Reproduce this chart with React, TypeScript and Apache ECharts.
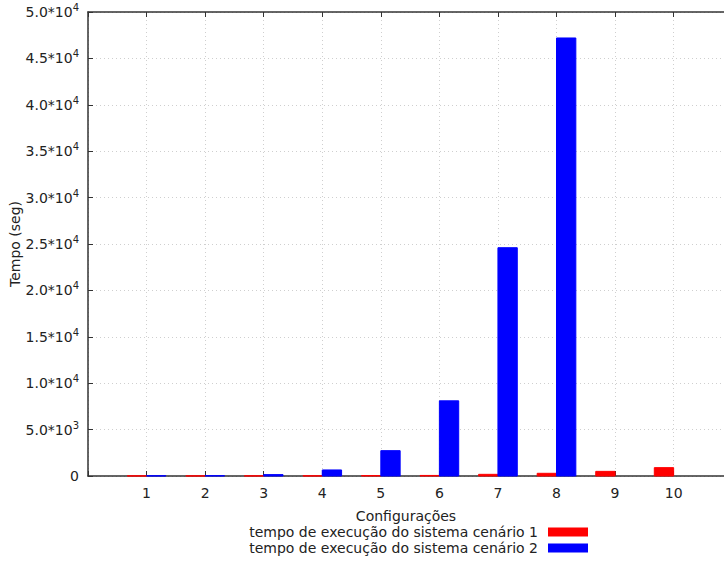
import React, { useEffect, useRef } from "react";
import * as echarts from "echarts";

const categories = [1, 2, 3, 4, 5, 6, 7, 8, 9, 10];
const scenario1 = [15, 15, 20, 25, 50, 60, 180, 290, 500, 900];
const scenario2 = [30, 40, 150, 650, 2730, 8100, 24600, 47200, 0, 0];
const seriesNames = [
  "tempo de execução do sistema cenário 1",
  "tempo de execução do sistema cenário 2",
];
const yTicks = [0, 5000, 10000, 15000, 20000, 25000, 30000, 35000, 40000, 45000, 50000];

const FONT = "DejaVu Sans";
const FS = 14;

function fmtY(v: number): string {
  if (v === 0) return "0";
  const exp = Math.floor(Math.log10(v));
  const mant = v / Math.pow(10, exp);
  return `{a|${mant.toFixed(1)}*10}{s|${exp}}`;
}

function barSeries(name: string, data: number[], color: string, offset: number) {
  return {
    type: "custom",
    name,
    itemStyle: { color },
    data: categories.map((c, i) => [c, data[i]]),
    encode: { x: 0, y: 1 },
    renderItem: (params: any, api: any) => {
      const c = api.value(0);
      const v = api.value(1);
      if (!v) return null;
      const p0 = api.coord([c + offset, v]);
      const p1 = api.coord([c + offset + 0.33, 0]);
      return {
        type: "rect",
        shape: { x: p0[0], y: p0[1], width: p1[0] - p0[0], height: p1[1] - p0[1] },
        style: { fill: color, stroke: color, lineWidth: 1, opacity: 1 },
      };
    },
  };
}

function legendFor(name: string, top: number) {
  return {
    orient: "vertical",
    right: 136,
    top,
    align: "right",
    itemWidth: 40,
    itemHeight: 9,
    padding: 0,
    textStyle: { fontFamily: FONT, fontSize: FS, color: "#222", padding: [0, 5, 0, 0] },
    data: [{ name, icon: "rect" }],
  };
}

export default function App() {
  const ref = useRef<HTMLDivElement>(null);
  useEffect(() => {
    if (!ref.current) return;
    const chart = echarts.init(ref.current, null, { renderer: "svg" });
    const axisLine = { show: true, lineStyle: { color: "#333", width: 1.5 } };
    const splitLine = { show: true, lineStyle: { color: "#cfcfcf", type: [1, 3], width: 1 } };
    const axisTick = { show: true, inside: true, length: 5, lineStyle: { color: "#333" } };
    chart.setOption({
      animation: false,
      backgroundColor: "#fff",
      textStyle: { fontFamily: FONT },
      grid: { left: 88, top: 12, right: 0, bottom: 85, containLabel: false, outerBoundsMode: "none" },
      legend: [legendFor(seriesNames[0], 525), legendFor(seriesNames[1], 541)],
      xAxis: [
        {
          type: "value",
          min: 0,
          max: 10.86,
          interval: 1,
          position: "bottom",
          name: "Configurações",
          nameLocation: "middle",
          nameGap: 33,
          nameMoveOverlap: false,
          nameTextStyle: { fontFamily: FONT, fontSize: FS, color: "#222" },
          axisLine,
          axisTick,
          axisLabel: {
            show: true,
            margin: 10,
            fontFamily: FONT,
            fontSize: FS,
            color: "#222",
            showMaxLabel: false,
            formatter: (v: number) => (categories.includes(v) ? String(v) : ""),
          },
          splitLine,
        },
        {
          type: "value",
          min: 0,
          max: 10.86,
          interval: 1,
          position: "top",
          axisLine,
          axisTick,
          axisLabel: { show: false },
          splitLine: { show: false },
        },
      ],
      yAxis: {
        type: "value",
        min: 0,
        max: 50000,
        interval: 5000,
        name: "Tempo (seg)",
        nameLocation: "middle",
        nameGap: 66,
        nameMoveOverlap: false,
        nameRotate: 90,
        nameTextStyle: { fontFamily: FONT, fontSize: FS, color: "#222" },
        axisLine,
        axisTick,
        axisLabel: {
          margin: 9,
          fontFamily: FONT,
          color: "#222",
          formatter: (v: number) => (yTicks.includes(v) ? fmtY(v) : ""),
          rich: {
            a: { fontFamily: FONT, fontSize: FS, color: "#222" },
            s: { fontFamily: FONT, fontSize: 10, color: "#222", verticalAlign: "bottom", padding: [0, 0, 9, 0] },
          },
          fontSize: FS,
        },
        splitLine,
      },
      series: [
        barSeries(seriesNames[0], scenario1, "#ff0000", -0.33),
        barSeries(seriesNames[1], scenario2, "#0000ff", 0),
      ],
    });
    return () => chart.dispose();
  }, []);
  return (
    <div
      ref={ref}
      style={{ position: "fixed", left: 0, top: 0, width: 724, height: 561 }}
    />
  );
}
